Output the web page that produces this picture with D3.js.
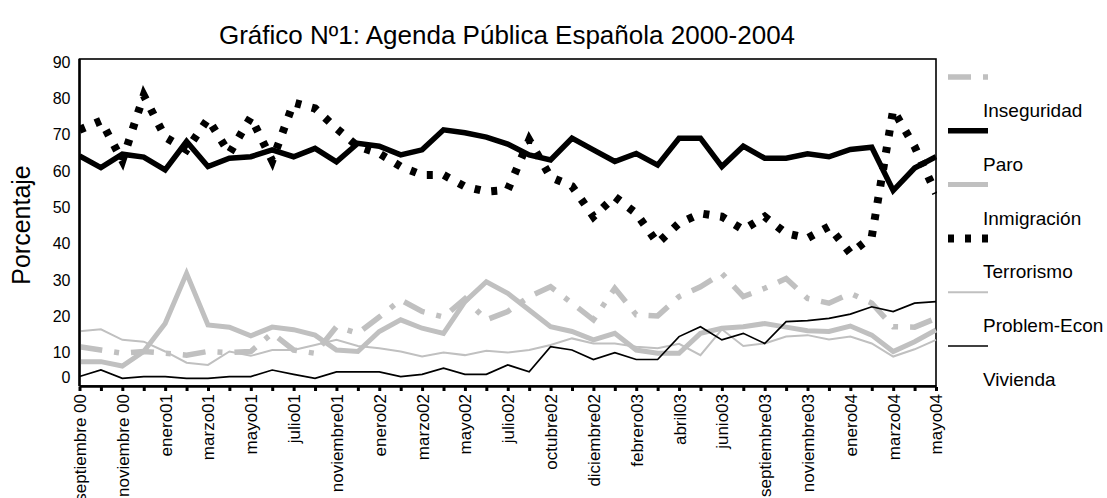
<!DOCTYPE html>
<meta charset="utf-8">
<style>
    body { margin: 0; background: #fff; }
    text { font-family: "Liberation Sans", Arial, Helvetica, sans-serif; fill: #000; }
    .serie { fill: none; stroke-linejoin: miter; stroke-miterlimit: 6; }
    .axis path, .axis line { stroke: #000; }
</style>
<svg width="1107" height="498"></svg>
<script src="https://d3js.org/d3.v7.min.js"></script>
<script>

    var categories = ["septiembre 00", "octubre 00", "noviembre 00", "diciembre 00", "enero01", "febrero01",
        "marzo01", "abril01", "mayo01", "junio01", "julio01", "octubre01", "noviembre01", "diciembre01",
        "enero02", "febrero02", "marzo02", "abril02", "mayo02", "junio02", "julio02", "septiembre02",
        "octubre02", "noviembre02", "diciembre02", "enero03", "febrero03", "marzo03", "abril03", "mayo03",
        "junio03", "julio03", "septiembre03", "octubre03", "noviembre03", "diciembre03", "enero04",
        "febrero04", "marzo04", "abril04", "mayo04"];

    var inseguridad = [10.8, 9.9, 9, 9.5, 9, 8.5, 9.5, 9.2, 9.5, 14.5, 9.9, 9, 16.3, 14.5, 19, 23.7, 20.5, 19,
        24, 18.2, 20.5, 24.6, 27.3, 22.8, 18.2, 26.9, 19.6, 19.3, 24.6, 27.3, 31, 24.6, 26.9, 29.6, 24.1,
        22.8, 25.5, 22.8, 16.3, 16.2, 18.6];
    var paro = [63.3, 60.1, 63.8, 63, 59.5, 67.3, 60.4, 62.7, 63.1, 65, 63.1, 65.4, 61.7, 66.8, 66, 63.6, 65,
        70.5, 69.7, 68.5, 66.6, 63.6, 62.2, 68.2, 65, 61.8, 64, 60.8, 68.2, 68.2, 60.4, 66, 62.7, 62.7, 63.9,
        63.1, 65.1, 65.7, 53.8, 60, 63.1];
    var inmigracion = [6.7, 6.7, 5.5, 9.5, 17.2, 31, 16.8, 16.2, 13.8, 16.2, 15.5, 14, 9.9, 9.5, 15, 18.2, 15.9,
        14.5, 23.2, 28.7, 25.5, 20.9, 16.3, 15, 12.7, 14.5, 9.9, 9, 9, 14.5, 15.9, 16.3, 17.2, 16.2, 15.2, 15,
        16.5, 14, 9.5, 12.2, 15.4];
    var terrorismo = [70.5, 73, 62, 80, 68.5, 65, 73.5, 64, 74, 62, 78, 76.4, 70.9, 65.9, 64, 60.4, 58.1, 58.1,
        54.9, 53.5, 54, 67.7, 57.5, 55, 46.6, 52.1, 47.5, 39.3, 44.8, 47.5, 46.6, 43, 46.6, 42, 40.7, 43.9,
        36.5, 41.1, 76, 65.9, 53];
    var problemEcon = [15.1, 15.6, 12.7, 12.2, 9.5, 6.4, 5.8, 9.5, 8.3, 9.9, 9.9, 11.3, 12.7, 11, 10.4, 9.5,
        8.1, 9.2, 8.5, 9.7, 9.2, 9.9, 11.3, 13.1, 11.7, 11.7, 10.8, 10.4, 11.6, 8.5, 15.6, 11, 11.7, 13.6, 14,
        12.8, 13.6, 11.7, 8.1, 10.1, 12.7];
    var vivienda = [2.6, 4.4, 2.1, 2.6, 2.6, 2.1, 2.1, 2.6, 2.6, 4.4, 3.2, 2.1, 3.9, 3.9, 3.9, 2.6, 3.2, 4.9,
        3.2, 3.2, 5.8, 3.9, 10.8, 9.9, 7.3, 9.2, 7.3, 7.3, 13.6, 16.3, 12.7, 14.5, 11.7, 17.7, 18, 18.6, 19.8,
        21.8, 20.5, 22.8, 23.2];

    var yTicks = [0, 10, 20, 30, 40, 50, 60, 70, 80, 90];

    var series = [
        {name: "Inseguridad", values: inseguridad, color: "#c0c0c0", width: 5.5, dash: "23,12,5,12"},
        {name: "Paro", values: paro, color: "#000", width: 5.5, dash: null},
        {name: "Inmigración", values: inmigracion, color: "#c0c0c0", width: 5, dash: null},
        {name: "Terrorismo", values: terrorismo, color: "#000", width: 8, dash: "6,11"},
        {name: "Problem-Econ", values: problemEcon, color: "#c0c0c0", width: 2, dash: null},
        {name: "Vivienda", values: vivienda, color: "#000", width: 1.7, dash: null}
    ];

    var svg = d3.select("svg"),
        plotLeft = 79.5, plotRight = 936, plotTop = 59, plotBottom = 386;

    var x = d3.scalePoint().domain(categories).range([plotLeft, plotRight]);
    var y = d3.scaleLinear().domain([0, 90]).range([plotBottom, plotTop]);

    svg.append("clipPath").attr("id", "plot-clip")
        .append("rect")
        .attr("x", plotLeft).attr("y", plotTop - 30)
        .attr("width", plotRight - plotLeft + 1).attr("height", plotBottom - plotTop + 30);

    // plot area border
    svg.append("rect")
        .attr("x", plotLeft).attr("y", plotTop)
        .attr("width", plotRight - plotLeft).attr("height", plotBottom - plotTop)
        .attr("fill", "#fff").attr("stroke", "#000").attr("stroke-width", 1.6);

    var line = d3.line()
        .x(function(d, i) { return x(categories[i]); })
        .y(function(d) { return y(d); });

    svg.append("g").attr("clip-path", "url(#plot-clip)")
        .selectAll(".serie").data(series).enter().append("path")
        .attr("class", "serie")
        .attr("d", function(d) { return line(d.values); })
        .attr("stroke", function(d) { return d.color; })
        .attr("stroke-width", function(d) { return d.width; })
        .attr("stroke-dasharray", function(d) { return d.dash; });

    // y axis
    var yAxis = svg.append("g").attr("class", "axis")
        .attr("transform", "translate(" + plotLeft + ",0)")
        .call(d3.axisLeft(y).tickValues(yTicks).tickSize(0).tickPadding(9));
    yAxis.select(".domain").remove();
    yAxis.selectAll("text")
        .style("font-size", "16px")
        .style("font-family", "'Liberation Sans', Arial, sans-serif")
        .attr("dy", function(d) { return d === 0 ? "-0.2em" : "0.5em"; });
    svg.append("line")
        .attr("x1", plotLeft).attr("x2", plotLeft).attr("y1", plotTop).attr("y2", plotBottom)
        .attr("stroke", "#000").attr("stroke-width", 2.5);

    // x axis
    var xAxis = svg.append("g").attr("class", "axis")
        .attr("transform", "translate(0," + plotBottom + ")")
        .call(d3.axisBottom(x).tickSizeInner(4).tickSizeOuter(0)
            .tickFormat(function(d, i) { return i % 2 ? "" : d; }));
    xAxis.select(".domain").attr("stroke-width", 2.5);
    xAxis.selectAll(".tick line").attr("stroke-width", 3).attr("y1", 1).attr("y2", 5);
    xAxis.selectAll("text")
        .attr("transform", "rotate(-90)")
        .attr("x", -8).attr("y", 0).attr("dy", "0.35em")
        .style("text-anchor", "end")
        .style("font-size", "17px")
        .style("font-family", "'Liberation Sans', Arial, sans-serif");

    // titles
    svg.append("text")
        .attr("x", 507).attr("y", 44)
        .attr("text-anchor", "middle")
        .style("font-size", "26px")
        .text("Gráfico Nº1: Agenda Pública Española 2000-2004");

    svg.append("text")
        .attr("transform", "translate(30,225) rotate(-90)")
        .attr("text-anchor", "middle")
        .style("font-size", "25px")
        .text("Porcentaje");

    // legend: sample above each label
    var legend = svg.selectAll(".legend").data(series).enter().append("g")
        .attr("class", "legend");
    legend.append("line")
        .attr("x1", 948).attr("x2", 988)
        .attr("y1", function(d, i) { return 77 + i * 53.8; })
        .attr("y2", function(d, i) { return 77 + i * 53.8; })
        .attr("stroke", function(d) { return d.color; })
        .attr("stroke-width", function(d) { return d.width; })
        .attr("stroke-dasharray", function(d) { return d.dash; });
    legend.append("text")
        .attr("x", 983)
        .attr("y", function(d, i) { return 110.5 + i * 53.7; })
        .attr("dy", "0.35em")
        .style("font-size", "19px")
        .text(function(d) { return d.name; });

</script>
